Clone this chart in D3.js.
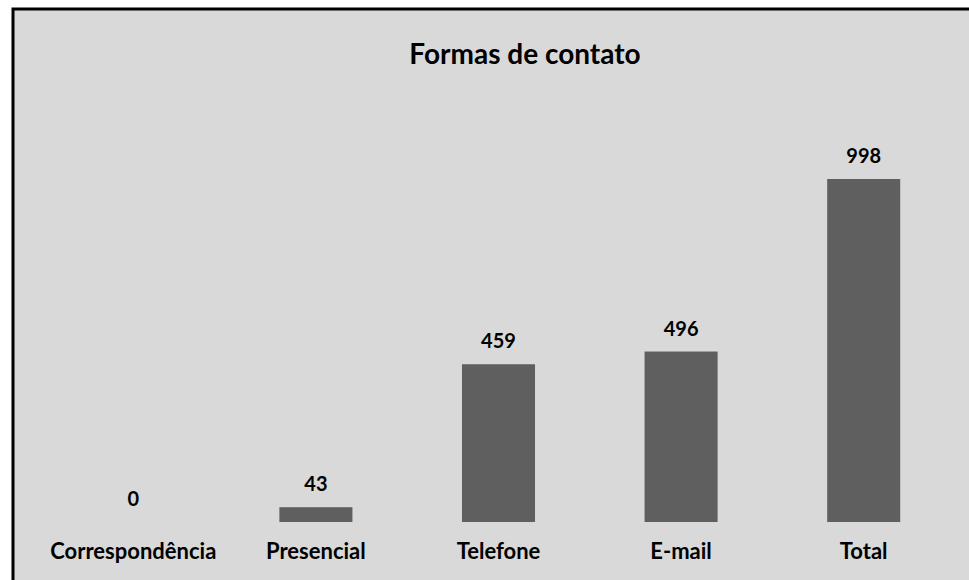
<!DOCTYPE html>
<html>
<head>
<meta charset="utf-8">
<script src="https://cdn.jsdelivr.net/npm/d3@7"></script>
<style>
  body { margin: 0; background: #ffffff; }
  text { font-family: Lato, "Open Sans", sans-serif; font-weight: bold; fill: #000; }
</style>
</head>
<body>
<svg id="chart" width="969" height="580"></svg>
<script>
const categories = ["Correspondência", "Presencial", "Telefone", "E-mail", "Total"];
const values = [0, 43, 459, 496, 998];

const svg = d3.select("#chart");

// chart area frame (cut off at right and bottom)
svg.append("rect")
    .attr("x", 13)
    .attr("y", 9)
    .attr("width", 1000)
    .attr("height", 600)
    .attr("fill", "#d9d9d9")
    .attr("stroke", "#000")
    .attr("stroke-width", 3);

const x = d3.scaleBand()
    .domain(categories)
    .range([42, 955]);

const y = d3.scaleLinear()
    .domain([0, 998])
    .range([522, 179]);

const barW = x.bandwidth() * 0.4;

svg.selectAll(".bar")
    .data(values)
    .enter()
    .append("rect")
    .attr("class", "bar")
    .attr("x", (d, i) => x(categories[i]) + x.bandwidth() / 2 - barW / 2)
    .attr("y", d => y(d))
    .attr("width", barW)
    .attr("height", d => y(0) - y(d))
    .attr("fill", "#5f5f5f");

svg.selectAll(".val")
    .data(values)
    .enter()
    .append("text")
    .attr("class", "val")
    .attr("x", (d, i) => x(categories[i]) + x.bandwidth() / 2)
    .attr("y", d => y(d) - 16)
    .attr("text-anchor", "middle")
    .attr("font-size", "20px")
    .text(d => d);

svg.selectAll(".cat")
    .data(categories)
    .enter()
    .append("text")
    .attr("class", "cat")
    .attr("x", d => x(d) + x.bandwidth() / 2)
    .attr("y", 559)
    .attr("text-anchor", "middle")
    .attr("font-size", "22px")
    .text(d => d);

svg.append("text")
    .attr("x", 525)
    .attr("y", 64)
    .attr("text-anchor", "middle")
    .attr("font-size", "28px")
    .text("Formas de contato");
</script>
</body>
</html>
